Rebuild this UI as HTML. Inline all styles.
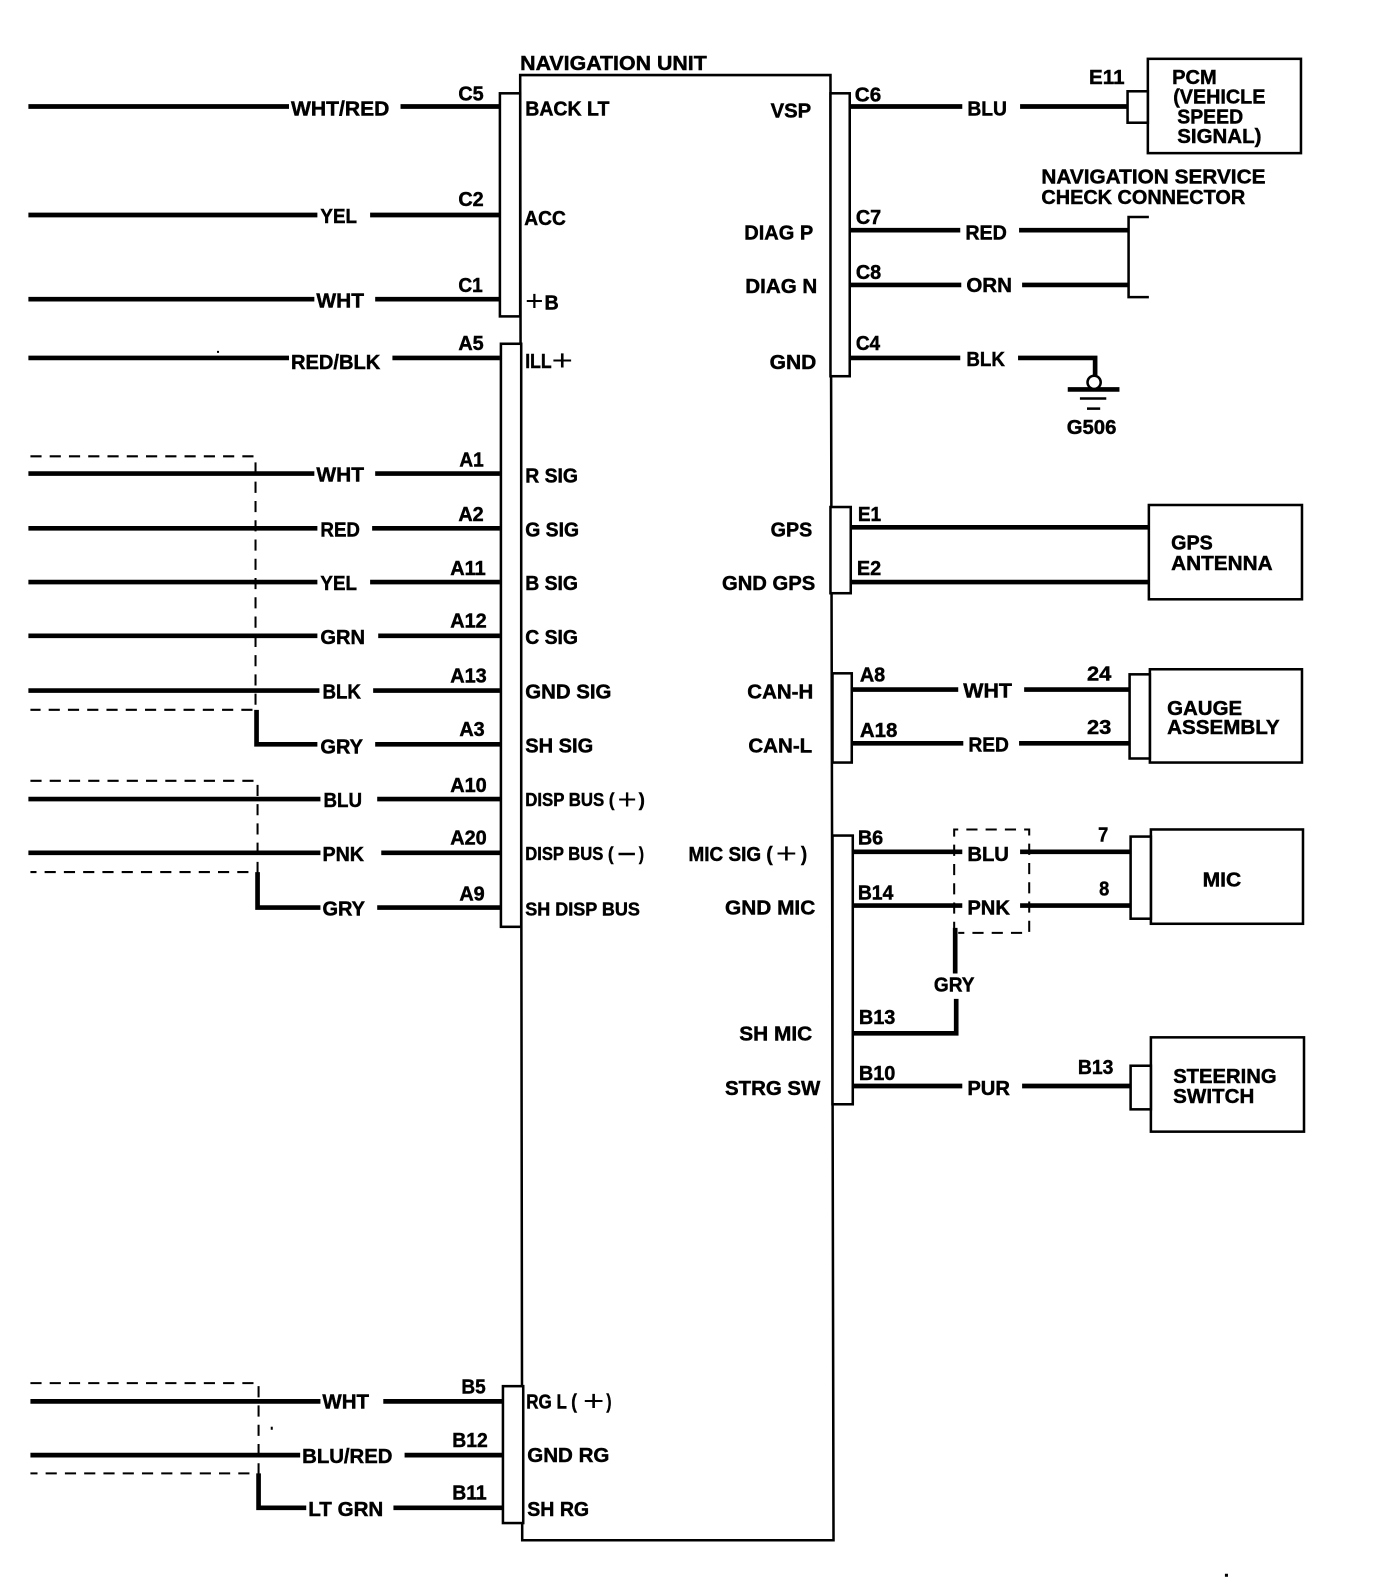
<!DOCTYPE html>
<html><head><meta charset="utf-8"><title>Navigation Unit Wiring Diagram</title>
<style>
html,body{margin:0;padding:0;background:#fff}
svg{display:block}
text{font:bold 20px "Liberation Sans",sans-serif;fill:#000;stroke:#000;stroke-width:.45}
.s{font-size:18px}
.p{font-weight:normal;font-size:28px;stroke-width:0}
.w path{fill:none;stroke:#000;stroke-width:4.6}
.b{fill:#fff;stroke:#000;stroke-width:2.5}
.d{fill:none;stroke:#000;stroke-width:2;stroke-dasharray:11 8}
</style></head><body>
<svg xmlns="http://www.w3.org/2000/svg" width="1376" height="1590" viewBox="0 0 1357 1568">
<rect width="1357" height="1568" fill="#fff"/>
<polygon class="b" points="513,74 819,74 822,1519 515,1519"/>
<g>
<rect class="b" x="493" y="92" width="20" height="220"/>
<rect class="b" x="494" y="339" width="20" height="575"/>
<rect class="b" x="496" y="1367" width="20" height="135"/>
<rect class="b" x="819" y="92" width="19" height="279"/>
<rect class="b" x="819" y="500" width="20" height="85"/>
<rect class="b" x="821" y="664" width="19" height="88"/>
<rect class="b" x="821" y="824" width="20" height="265"/>
<rect class="b" x="1132" y="58" width="151" height="93"/>
<rect class="b" x="1112" y="90" width="20" height="31"/>
<rect class="b" x="1133" y="498" width="151" height="93"/>
<rect class="b" x="1134" y="660" width="150" height="92"/>
<rect class="b" x="1114" y="665" width="20" height="83"/>
<rect class="b" x="1135" y="818" width="150" height="93"/>
<rect class="b" x="1115" y="825" width="20" height="81"/>
<rect class="b" x="1135" y="1023" width="151" height="93"/>
<rect class="b" x="1115" y="1051" width="20" height="43"/>
</g>
<path class="d" d="M30 450H252V700H30M30 770H254V860H30M30 1364H255V1453H30M941 920V818H1015V920H945"/>
<g class="w"><path d="M28 105H285M395 105H493M28 212H313M365 212H493M28 295H310M370 295H493M28 353H285M387 353H493M28 467H310M370 467H493M28 521H313M367 521H493M28 574H313M365 574H493M28 627H313M373 627H493M28 681H315M368 681H493M253 700V734H313M370 734H494M28 788H316M372 788H494M28 841H316M376 841H494M254 860V895H316M372 895H494M30 1382H316M378 1382H496M30 1435H296M399 1435H496M255 1453V1487H302M388 1487H496M838 105H949M1006 105H1112M838 227H947M1005 227H1113M838 281H948M1008 281H1113M838 353H947M1004 353H1080V371M839 520H1133M839 574H1133M840 680H945M1010 680H1114M840 733H950M1005 733H1114M841 840H949M1006 840H1115M841 893H949M1006 893H1115M942 915V960M943 985V1019H841M841 1071H949M1008 1071H1115M1053 384H1104"/></g>
<path d="M1133 214H1113V293H1133" fill="none" stroke="#000" stroke-width="2.5"/>
<circle cx="1079" cy="377" r="6.5" fill="#fff" stroke="#000" stroke-width="2.5"/>
<path d="M1065 393H1091M1072 403H1085" stroke="#000" stroke-width="2.5"/>
<rect x="214" y="346" width="2" height="2"/><rect x="267" y="1407" width="2" height="3"/><rect x="1208" y="1552" width="3" height="3"/>

<text x="513" y="69" textLength="184" lengthAdjust="spacingAndGlyphs">NAVIGATION UNIT</text>

<text x="287" y="114" textLength="97" lengthAdjust="spacingAndGlyphs">WHT/RED</text>
<text x="316" y="220" textLength="36" lengthAdjust="spacingAndGlyphs">YEL</text>
<text x="312" y="303" textLength="47" lengthAdjust="spacingAndGlyphs">WHT</text>
<text x="287" y="364" textLength="88" lengthAdjust="spacingAndGlyphs">RED/BLK</text>
<text x="312" y="475" textLength="47" lengthAdjust="spacingAndGlyphs">WHT</text>
<text x="316" y="529" textLength="39" lengthAdjust="spacingAndGlyphs">RED</text>
<text x="316" y="582" textLength="36" lengthAdjust="spacingAndGlyphs">YEL</text>
<text x="316" y="635" textLength="44" lengthAdjust="spacingAndGlyphs">GRN</text>
<text x="318" y="689" textLength="38" lengthAdjust="spacingAndGlyphs">BLK</text>
<text x="316" y="743" textLength="42" lengthAdjust="spacingAndGlyphs">GRY</text>
<text x="319" y="796" textLength="38" lengthAdjust="spacingAndGlyphs">BLU</text>
<text x="318" y="849" textLength="41" lengthAdjust="spacingAndGlyphs">PNK</text>
<text x="318" y="903" textLength="42" lengthAdjust="spacingAndGlyphs">GRY</text>
<text x="318" y="1389" textLength="46" lengthAdjust="spacingAndGlyphs">WHT</text>
<text x="298" y="1443" textLength="89" lengthAdjust="spacingAndGlyphs">BLU/RED</text>
<text x="304" y="1495" textLength="74" lengthAdjust="spacingAndGlyphs">LT GRN</text>

<text x="452" y="99" textLength="25" lengthAdjust="spacingAndGlyphs">C5</text>
<text x="452" y="203" textLength="25" lengthAdjust="spacingAndGlyphs">C2</text>
<text x="452" y="288" textLength="24" lengthAdjust="spacingAndGlyphs">C1</text>
<text x="452" y="345" textLength="25" lengthAdjust="spacingAndGlyphs">A5</text>
<text x="453" y="460" textLength="24" lengthAdjust="spacingAndGlyphs">A1</text>
<text x="452" y="514" textLength="25" lengthAdjust="spacingAndGlyphs">A2</text>
<text x="444" y="567" textLength="35" lengthAdjust="spacingAndGlyphs">A11</text>
<text x="444" y="619" textLength="36" lengthAdjust="spacingAndGlyphs">A12</text>
<text x="444" y="673" textLength="36" lengthAdjust="spacingAndGlyphs">A13</text>
<text x="453" y="726" textLength="25" lengthAdjust="spacingAndGlyphs">A3</text>
<text x="444" y="781" textLength="36" lengthAdjust="spacingAndGlyphs">A10</text>
<text x="444" y="833" textLength="36" lengthAdjust="spacingAndGlyphs">A20</text>
<text x="453" y="888" textLength="25" lengthAdjust="spacingAndGlyphs">A9</text>
<text x="455" y="1374" textLength="24" lengthAdjust="spacingAndGlyphs">B5</text>
<text x="446" y="1427" textLength="35" lengthAdjust="spacingAndGlyphs">B12</text>
<text x="446" y="1479" textLength="34" lengthAdjust="spacingAndGlyphs">B11</text>

<text x="518" y="114" textLength="83" lengthAdjust="spacingAndGlyphs">BACK LT</text>
<text x="517" y="222" textLength="41" lengthAdjust="spacingAndGlyphs">ACC</text>
<text class="p" x="518" y="306" textLength="18" lengthAdjust="spacingAndGlyphs">+</text>
<text x="537" y="305" textLength="14" lengthAdjust="spacingAndGlyphs">B</text>
<text x="518" y="363" textLength="26" lengthAdjust="spacingAndGlyphs">ILL</text>
<text class="p" x="544" y="365" textLength="21" lengthAdjust="spacingAndGlyphs">+</text>
<text x="518" y="476" textLength="52" lengthAdjust="spacingAndGlyphs">R SIG</text>
<text x="518" y="529" textLength="53" lengthAdjust="spacingAndGlyphs">G SIG</text>
<text x="518" y="582" textLength="52" lengthAdjust="spacingAndGlyphs">B SIG</text>
<text x="518" y="635" textLength="52" lengthAdjust="spacingAndGlyphs">C SIG</text>
<text x="518" y="689" textLength="85" lengthAdjust="spacingAndGlyphs">GND SIG</text>
<text x="518" y="742" textLength="67" lengthAdjust="spacingAndGlyphs">SH SIG</text>
<text class="s" x="518" y="795" textLength="88" lengthAdjust="spacingAndGlyphs">DISP BUS (</text>
<text class="p" x="609" y="798" textLength="19" lengthAdjust="spacingAndGlyphs">+</text>
<text class="s" x="630" y="795" textLength="6" lengthAdjust="spacingAndGlyphs">)</text>
<text class="s" x="518" y="848" textLength="87" lengthAdjust="spacingAndGlyphs">DISP BUS (</text>
<text class="s" x="609" y="848" textLength="18" lengthAdjust="spacingAndGlyphs">−</text>
<text class="s" x="630" y="848" textLength="5" lengthAdjust="spacingAndGlyphs">)</text>
<text class="s" x="518" y="903" textLength="113" lengthAdjust="spacingAndGlyphs">SH DISP BUS</text>
<text x="519" y="1389" textLength="50" lengthAdjust="spacingAndGlyphs">RG L (</text>
<text class="p" x="575" y="1391" textLength="21" lengthAdjust="spacingAndGlyphs">+</text>
<text x="598" y="1389" textLength="5" lengthAdjust="spacingAndGlyphs">)</text>
<text x="520" y="1442" textLength="81" lengthAdjust="spacingAndGlyphs">GND RG</text>
<text x="520" y="1495" textLength="61" lengthAdjust="spacingAndGlyphs">SH RG</text>

<text x="760" y="116" textLength="40" lengthAdjust="spacingAndGlyphs">VSP</text>
<text x="734" y="236" textLength="68" lengthAdjust="spacingAndGlyphs">DIAG P</text>
<text x="735" y="289" textLength="71" lengthAdjust="spacingAndGlyphs">DIAG N</text>
<text x="759" y="364" textLength="46" lengthAdjust="spacingAndGlyphs">GND</text>
<text x="760" y="529" textLength="41" lengthAdjust="spacingAndGlyphs">GPS</text>
<text x="712" y="582" textLength="92" lengthAdjust="spacingAndGlyphs">GND GPS</text>
<text x="737" y="689" textLength="65" lengthAdjust="spacingAndGlyphs">CAN-H</text>
<text x="738" y="742" textLength="63" lengthAdjust="spacingAndGlyphs">CAN-L</text>
<text x="679" y="849" textLength="83" lengthAdjust="spacingAndGlyphs">MIC SIG (</text>
<text class="p" x="765" y="851" textLength="21" lengthAdjust="spacingAndGlyphs">+</text>
<text x="790" y="849" textLength="6" lengthAdjust="spacingAndGlyphs">)</text>
<text x="715" y="902" textLength="89" lengthAdjust="spacingAndGlyphs">GND MIC</text>
<text x="729" y="1026" textLength="72" lengthAdjust="spacingAndGlyphs">SH MIC</text>
<text x="715" y="1080" textLength="94" lengthAdjust="spacingAndGlyphs">STRG SW</text>

<text x="843" y="100" textLength="26" lengthAdjust="spacingAndGlyphs">C6</text>
<text x="844" y="221" textLength="25" lengthAdjust="spacingAndGlyphs">C7</text>
<text x="844" y="275" textLength="25" lengthAdjust="spacingAndGlyphs">C8</text>
<text x="844" y="345" textLength="24" lengthAdjust="spacingAndGlyphs">C4</text>
<text x="846" y="514" textLength="23" lengthAdjust="spacingAndGlyphs">E1</text>
<text x="845" y="567" textLength="24" lengthAdjust="spacingAndGlyphs">E2</text>
<text x="848" y="672" textLength="25" lengthAdjust="spacingAndGlyphs">A8</text>
<text x="848" y="727" textLength="37" lengthAdjust="spacingAndGlyphs">A18</text>
<text x="846" y="833" textLength="25" lengthAdjust="spacingAndGlyphs">B6</text>
<text x="846" y="887" textLength="35" lengthAdjust="spacingAndGlyphs">B14</text>
<text x="847" y="1010" textLength="36" lengthAdjust="spacingAndGlyphs">B13</text>
<text x="847" y="1065" textLength="36" lengthAdjust="spacingAndGlyphs">B10</text>

<text x="954" y="114" textLength="39" lengthAdjust="spacingAndGlyphs">BLU</text>
<text x="952" y="236" textLength="41" lengthAdjust="spacingAndGlyphs">RED</text>
<text x="953" y="288" textLength="45" lengthAdjust="spacingAndGlyphs">ORN</text>
<text x="953" y="361" textLength="38" lengthAdjust="spacingAndGlyphs">BLK</text>
<text x="950" y="688" textLength="48" lengthAdjust="spacingAndGlyphs">WHT</text>
<text x="955" y="741" textLength="40" lengthAdjust="spacingAndGlyphs">RED</text>
<text x="954" y="849" textLength="41" lengthAdjust="spacingAndGlyphs">BLU</text>
<text x="954" y="902" textLength="42" lengthAdjust="spacingAndGlyphs">PNK</text>
<text x="921" y="978" textLength="40" lengthAdjust="spacingAndGlyphs">GRY</text>
<text x="954" y="1080" textLength="42" lengthAdjust="spacingAndGlyphs">PUR</text>

<text x="1074" y="83" textLength="35" lengthAdjust="spacingAndGlyphs">E11</text>
<text x="1072" y="671" textLength="24" lengthAdjust="spacingAndGlyphs">24</text>
<text x="1072" y="724" textLength="24" lengthAdjust="spacingAndGlyphs">23</text>
<text x="1083" y="830" textLength="10" lengthAdjust="spacingAndGlyphs">7</text>
<text x="1084" y="883" textLength="10" lengthAdjust="spacingAndGlyphs">8</text>
<text x="1063" y="1059" textLength="35" lengthAdjust="spacingAndGlyphs">B13</text>
<text x="1052" y="428" textLength="49" lengthAdjust="spacingAndGlyphs">G506</text>

<text x="1156" y="83" textLength="44" lengthAdjust="spacingAndGlyphs">PCM</text>
<text x="1157" y="102" textLength="91" lengthAdjust="spacingAndGlyphs">(VEHICLE</text>
<text x="1161" y="122" textLength="65" lengthAdjust="spacingAndGlyphs">SPEED</text>
<text x="1161" y="141" textLength="83" lengthAdjust="spacingAndGlyphs">SIGNAL)</text>
<text x="1027" y="181" textLength="221" lengthAdjust="spacingAndGlyphs">NAVIGATION SERVICE</text>
<text x="1027" y="201" textLength="201" lengthAdjust="spacingAndGlyphs">CHECK CONNECTOR</text>
<text x="1155" y="542" textLength="41" lengthAdjust="spacingAndGlyphs">GPS</text>
<text x="1155" y="562" textLength="100" lengthAdjust="spacingAndGlyphs">ANTENNA</text>
<text x="1151" y="705" textLength="74" lengthAdjust="spacingAndGlyphs">GAUGE</text>
<text x="1151" y="724" textLength="111" lengthAdjust="spacingAndGlyphs">ASSEMBLY</text>
<text x="1186" y="874" textLength="38" lengthAdjust="spacingAndGlyphs">MIC</text>
<text x="1157" y="1068" textLength="102" lengthAdjust="spacingAndGlyphs">STEERING</text>
<text x="1157" y="1088" textLength="80" lengthAdjust="spacingAndGlyphs">SWITCH</text>
</svg>
</body></html>
